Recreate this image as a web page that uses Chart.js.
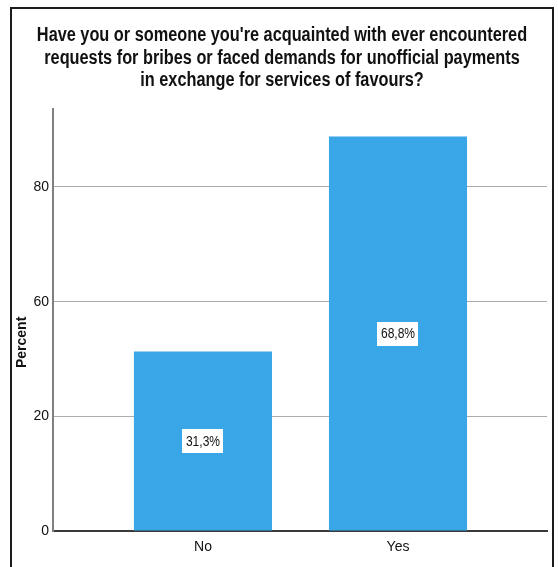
<!DOCTYPE html>
<html>
<head>
<meta charset="utf-8">
<script src="https://cdn.jsdelivr.net/npm/chart.js@4.4.1/dist/chart.umd.min.js"></script>
<style>
  html, body { margin: 0; padding: 0; background: #ffffff; }
  #wrap { width: 558px; height: 567px; }
</style>
</head>
<body>
<div id="wrap"><canvas id="chart" width="558" height="567"></canvas></div>
<script>
// Survey answers and their shares (percent)
const categories = ['No', 'Yes'];
const percentValues = [31.3, 68.8];

// Y axis tick positions and the labels printed beside them
const yTickValues = [0, 20, 40, 60];
const yTickLabels = ['0', '20', '60', '80'];

const titleLines = [
  "Have you or someone you're acquainted with ever encountered",
  'requests for bribes or faced demands for unofficial payments',
  'in exchange for services of favours?'
];
const yAxisTitle = 'Percent';

const FONT = "'Liberation Sans', Arial, sans-serif";
const BAR_COLOR = '#38a6e7';
const TEXT_COLOR = '#111111';
const TITLE_STRETCH = 0.815;  // condensed look for the heading
const LABEL_STRETCH = 0.86;   // condensed look for the value boxes

// Outer frame around the whole figure
const framePlugin = {
  id: 'frame',
  beforeDraw(chart) {
    const ctx = chart.ctx;
    ctx.save();
    ctx.strokeStyle = '#1c1c1c';
    ctx.lineWidth = 2;
    ctx.beginPath();
    ctx.moveTo(11, 567);
    ctx.lineTo(11, 8);
    ctx.lineTo(553, 8);
    ctx.lineTo(553, 567);
    ctx.stroke();
    ctx.restore();
  }
};

// Three-line heading in a condensed bold face
const headingPlugin = {
  id: 'heading',
  afterDraw(chart) {
    const ctx = chart.ctx;
    const cx = chart.width / 2 + 3;
    ctx.save();
    ctx.font = 'bold 20px ' + FONT;
    ctx.fillStyle = TEXT_COLOR;
    ctx.textAlign = 'center';
    ctx.textBaseline = 'alphabetic';
    titleLines.forEach((line, i) => {
      ctx.save();
      ctx.translate(cx, 41 + i * 22.5);
      ctx.scale(TITLE_STRETCH, 1);
      ctx.fillText(line, 0, 0);
      ctx.restore();
    });
    ctx.restore();
  }
};

// Rotated axis caption, placed a little below the middle of the axis
const yTitlePlugin = {
  id: 'yTitle',
  afterDraw(chart) {
    const ctx = chart.ctx;
    const area = chart.chartArea;
    ctx.save();
    ctx.translate(22, area.top + (area.bottom - area.top) * 0.553);
    ctx.rotate(-Math.PI / 2);
    ctx.font = 'bold 14px ' + FONT;
    ctx.fillStyle = TEXT_COLOR;
    ctx.textAlign = 'center';
    ctx.textBaseline = 'middle';
    ctx.fillText(yAxisTitle, 0, 0);
    ctx.restore();
  }
};

// Value labels in white boxes at the middle of each bar
const valueLabelPlugin = {
  id: 'valueLabels',
  afterDatasetsDraw(chart) {
    const ctx = chart.ctx;
    const meta = chart.getDatasetMeta(0);
    ctx.save();
    ctx.font = '14px ' + FONT;
    ctx.textAlign = 'center';
    ctx.textBaseline = 'middle';
    meta.data.forEach((bar, i) => {
      const text = percentValues[i].toFixed(1).replace('.', ',') + '%';
      const cy = (bar.y + bar.base) / 2;
      const w = ctx.measureText(text).width * LABEL_STRETCH + 7;
      const h = 24;
      ctx.fillStyle = '#ffffff';
      ctx.fillRect(Math.round(bar.x - w / 2), Math.round(cy - h / 2), Math.round(w), h);
      ctx.fillStyle = TEXT_COLOR;
      ctx.save();
      ctx.translate(bar.x, cy + 1);
      ctx.scale(LABEL_STRETCH, 1);
      ctx.fillText(text, 0, 0);
      ctx.restore();
    });
    ctx.restore();
  }
};

new Chart(document.getElementById('chart'), {
  type: 'bar',
  data: {
    datasets: [{
      data: percentValues.map((v, i) => ({ x: i, y: v })),
      backgroundColor: BAR_COLOR,
      borderWidth: 0,
      barPercentage: 0.708,
      categoryPercentage: 1
    }]
  },
  options: {
    responsive: false,
    animation: false,
    events: [],
    layout: { padding: { left: 0, right: 11, top: 109, bottom: 0 } },
    plugins: {
      legend: { display: false },
      tooltip: { enabled: false },
      title: { display: false }
    },
    scales: {
      x: {
        type: 'linear',
        offset: false,
        bounds: 'data',
        min: -0.769,
        max: 1.764,
        afterBuildTicks(scale) {
          scale.ticks = categories.map((c, i) => ({ value: i }));
        },
        afterFit(scale) { scale.height = 36; },
        grid: { display: false, drawTicks: false, offset: false },
        border: { display: true, color: '#3a3a3a', width: 2 },
        ticks: {
          padding: 8,
          color: TEXT_COLOR,
          font: { family: FONT, size: 14 },
          callback: (v) => categories[v]
        }
      },
      y: {
        type: 'linear',
        min: 0,
        max: 73.6,
        afterBuildTicks(scale) {
          scale.ticks = yTickValues.map(v => ({ value: v }));
        },
        afterFit(scale) { scale.width = 53; },
        grid: { color: '#ababab', lineWidth: 1, drawTicks: false },
        border: { display: true, color: '#808080', width: 2 },
        ticks: {
          padding: 4,
          color: TEXT_COLOR,
          font: { family: FONT, size: 14 },
          callback: (v, i) => yTickLabels[i]
        }
      }
    }
  },
  plugins: [framePlugin, headingPlugin, yTitlePlugin, valueLabelPlugin]
});
</script>
</body>
</html>
